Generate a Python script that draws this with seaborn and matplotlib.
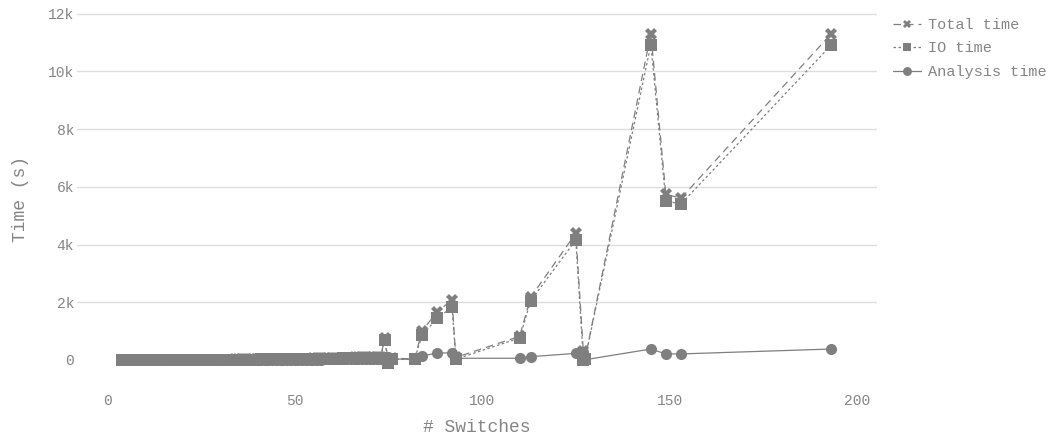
import pandas as pd
import matplotlib
matplotlib.use("Agg")
import matplotlib.pyplot as plt
from matplotlib.ticker import FuncFormatter
import seaborn as sns

# Valores
switches = [4, 5, 6, 7, 8, 9, 10, 11, 12, 13, 14, 15, 16, 17, 18, 19, 20,
            21, 22, 23, 24, 25, 26, 27, 28, 29, 30, 31, 32, 33, 34, 35, 36, 37, 38, 39, 40,
            41, 42, 43, 44, 45, 46, 47, 48, 49, 50, 51, 52, 53, 54, 55, 56, 57, 58, 59, 60,
            61, 62, 63, 64, 65, 66, 67, 68, 69, 70, 71,
            72, 73, 74, 75, 76, 82, 84, 88, 92, 93, 110, 113, 125, 127, 127.5,
            145, 149, 153, 193]

total_time = [1, 1, 1, 2, 2, 2, 3, 3, 3, 4, 4, 5, 5, 6, 6, 7, 7,
              8, 8, 9, 10, 10, 11, 12, 12, 13, 14, 15, 16, 17, 18, 19, 20, 21, 22, 24, 25,
              26, 28, 29, 31, 32, 34, 36, 38, 40, 42, 44, 46, 48, 51, 53, 56, 58, 61, 64, 67,
              70, 73, 77, 80, 84, 88, 92, 96, 100, 105, 110,
              115, 120, 750, 0, 60, 40, 1000, 1670, 2080, 90, 820, 2180, 4390, 300, 60,
              11300, 5750, 5600, 11290]

io_time = [1, 1, 1, 1, 1, 1, 2, 2, 2, 3, 3, 3, 3, 4, 4, 5, 5,
           6, 6, 6, 7, 7, 8, 8, 8, 9, 10, 10, 11, 12, 13, 13, 14, 15, 15, 17, 17,
           18, 20, 20, 22, 22, 24, 25, 27, 28, 29, 31, 32, 34, 36, 37, 39, 41, 43, 45, 47,
           49, 51, 54, 56, 59, 62, 64, 67, 70, 73, 77,
           80, 80, 690, -110, 20, 20, 860, 1440, 1830, 30, 760, 2060, 4160, 10, 50,
           10930, 5520, 5400, 10900]

analysis_time = [0, 0, 0, 1, 1, 1, 1, 1, 1, 1, 1, 2, 2, 2, 2, 2, 2,
                 2, 2, 3, 3, 3, 3, 4, 4, 4, 4, 5, 5, 5, 5, 6, 6, 6, 7, 7, 8,
                 8, 8, 9, 9, 10, 10, 11, 11, 12, 13, 13, 14, 14, 15, 16, 17, 17, 18, 19, 20,
                 21, 22, 23, 24, 25, 26, 28, 29, 30, 32, 33,
                 35, 40, 60, 110, 40, 20, 140, 240, 250, 60, 60, 115, 230, 290, 10,
                 380, 210, 210, 380]

series_names = ["Total time", "IO time", "Analysis time"]

# Montar tabela longa
df = pd.concat([
    pd.DataFrame({"Switches": switches, "Time": total_time, "Series": "Total time"}),
    pd.DataFrame({"Switches": switches, "Time": io_time, "Series": "IO time"}),
    pd.DataFrame({"Switches": switches, "Time": analysis_time, "Series": "Analysis time"}),
], ignore_index=True)

sns.set_style("white")
plt.rcParams["font.family"] = ["Liberation Mono", "DejaVu Sans Mono"]

cinza = "#7f7f7f"
texto = "#858585"

fig = plt.figure(figsize=(10.5, 4.37), dpi=100)
ax = fig.add_axes([77 / 1050, 1 - 387 / 437, 800 / 1050, 377 / 437])

sns.lineplot(
    data=df, x="Switches", y="Time", hue="Series", style="Series",
    hue_order=series_names, style_order=series_names,
    palette={s: cinza for s in series_names},
    markers={"Total time": "X", "IO time": "s", "Analysis time": "o"},
    dashes={"Total time": (6, 4), "IO time": (2, 2), "Analysis time": ""},
    estimator=None, sort=False, linewidth=0.9, markersize=8,
    markeredgewidth=0, ax=ax,
)

ax.set_xlim(-8, 205.3)
ax.set_ylim(-936, 12130)
ax.set_xticks([0, 50, 100, 150, 200])
ax.set_yticks([0, 2000, 4000, 6000, 8000, 10000, 12000])
ax.yaxis.set_major_formatter(FuncFormatter(lambda v, p: "0" if v == 0 else f"{int(v / 1000)}k"))
ax.tick_params(length=0, labelsize=10.5, labelcolor=texto)
ax.tick_params(axis="x", pad=5)
ax.tick_params(axis="y", pad=2)

ax.grid(axis="y", color="#dedede", linewidth=1)
ax.grid(axis="x", visible=False)
ax.yaxis.get_gridlines()[0].set_visible(False)
ax.set_axisbelow(True)
for sp in ax.spines.values():
    sp.set_visible(False)

ax.set_xlabel("# Switches", fontsize=13, color=texto, labelpad=8)
ax.set_ylabel("Time (s)", fontsize=13, color=texto, labelpad=14)

handles, labels = ax.get_legend_handles_labels()
ax.legend(handles, labels, loc="upper left", bbox_to_anchor=(893 / 1050, 1 - 18 / 437),
          bbox_transform=fig.transFigure, frameon=False, fontsize=11,
          labelcolor=texto, handlelength=1.8, handletextpad=0.5, markerscale=0.8,
          labelspacing=0.62, borderaxespad=0, borderpad=0)

fig.savefig("out.png", dpi=100)
